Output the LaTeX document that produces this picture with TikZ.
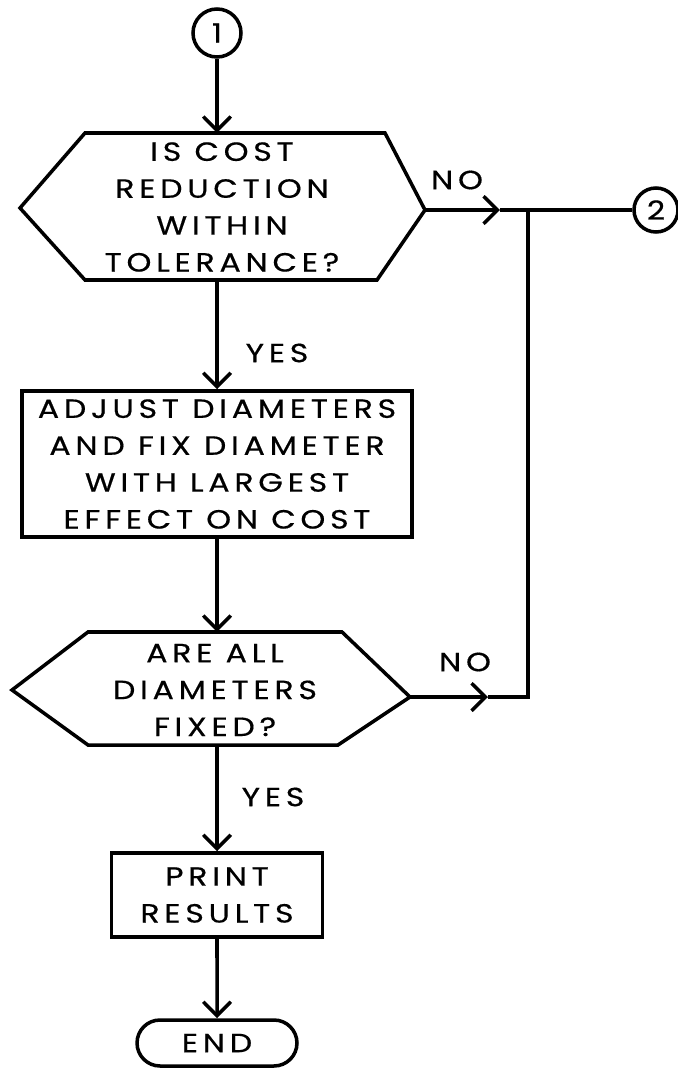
\documentclass[tikz,border=0pt]{standalone}
\usepackage{fontspec}
\setmainfont{Poppins}[LetterSpace=18, FakeStretch=1.2, FakeBold=0.5]
\usetikzlibrary{arrows.meta,positioning,shapes.misc}

\begin{document}
\begin{tikzpicture}[
  x=0.02cm, y=-0.02cm, line width=2pt,
  txt/.style={align=center, font=\fontsize{15}{21}\selectfont, inner sep=0pt},
  box/.style={draw, rectangle, txt},
  conn/.style={draw, circle, txt},
  term/.style={draw, rounded rectangle, txt},
  flow/.style={-{Straight Barb[length=0.28cm,width=0.55cm]}},
  lbl/.style={font=\fontsize{15}{16}\selectfont, inner sep=0pt}
]
\useasboundingbox (0,0) rectangle (678,1068);

\node[conn, minimum size=0.96cm] (c1) at (217,33) {1};
\node[conn, minimum size=0.88cm] (c2) at (656,210) {2};

\coordinate (d1w) at (20,208);
\coordinate (d1n) at (217,133);
\coordinate (d1e) at (425,210);
\coordinate (d1s) at (217,280);
\draw (d1w) -- (85,133) -- (d1n) -- (385,133) -- (d1e) -- (377,280) -- (d1s) -- (85,280) -- cycle;
\node[txt] (d1) at (222,207) {IS COST\\REDUCTION\\WITHIN\\TOLERANCE?};

\node[box, minimum width=7.8cm, minimum height=2.92cm] (r1) at (217,464)
  {ADJUST DIAMETERS\\AND FIX DIAMETER\\WITH LARGEST\\EFFECT ON COST};

\coordinate (d2w) at (12,690);
\coordinate (d2n) at (217,632);
\coordinate (d2e) at (410,697);
\coordinate (d2s) at (217,745);
\draw (d2w) -- (88,632) -- (d2n) -- (342,632) -- (d2e) -- (338,745) -- (d2s) -- (88,745) -- cycle;
\node[txt] (d2) at (215,690) {ARE ALL\\DIAMETERS\\FIXED?};

\node[box, minimum width=4.22cm, minimum height=1.68cm] (p1) at (217,895) {PRINT\\RESULTS};
\node[term, minimum width=3.2cm, minimum height=0.92cm] (stop) at (217,1043) {END};

\coordinate (a1) at (500,210);
\coordinate (j1) at (528,210);
\coordinate (a2) at (488,697);
\coordinate (j2) at (528,697);

\draw[flow] (c1) -- (d1n);
\draw[flow] (d1e) -- (a1);
\draw (a1) -- (c2);
\draw[flow] (d1s) -- (r1);
\draw[flow] (r1) -- (d2n);
\draw[flow] (d2e) -- (a2);
\draw (a2) -- (j2) -- (j1);
\draw[flow] (d2s) -- (p1);
\draw[flow] (p1) -- (stop);

\node[lbl] (no1) at (457,180) {NO};
\node[lbl] (yes1) at (277,353) {YES};
\node[lbl] (no2) at (465,662) {NO};
\node[lbl] (yes2) at (273,797) {YES};
\end{tikzpicture}
\end{document}
